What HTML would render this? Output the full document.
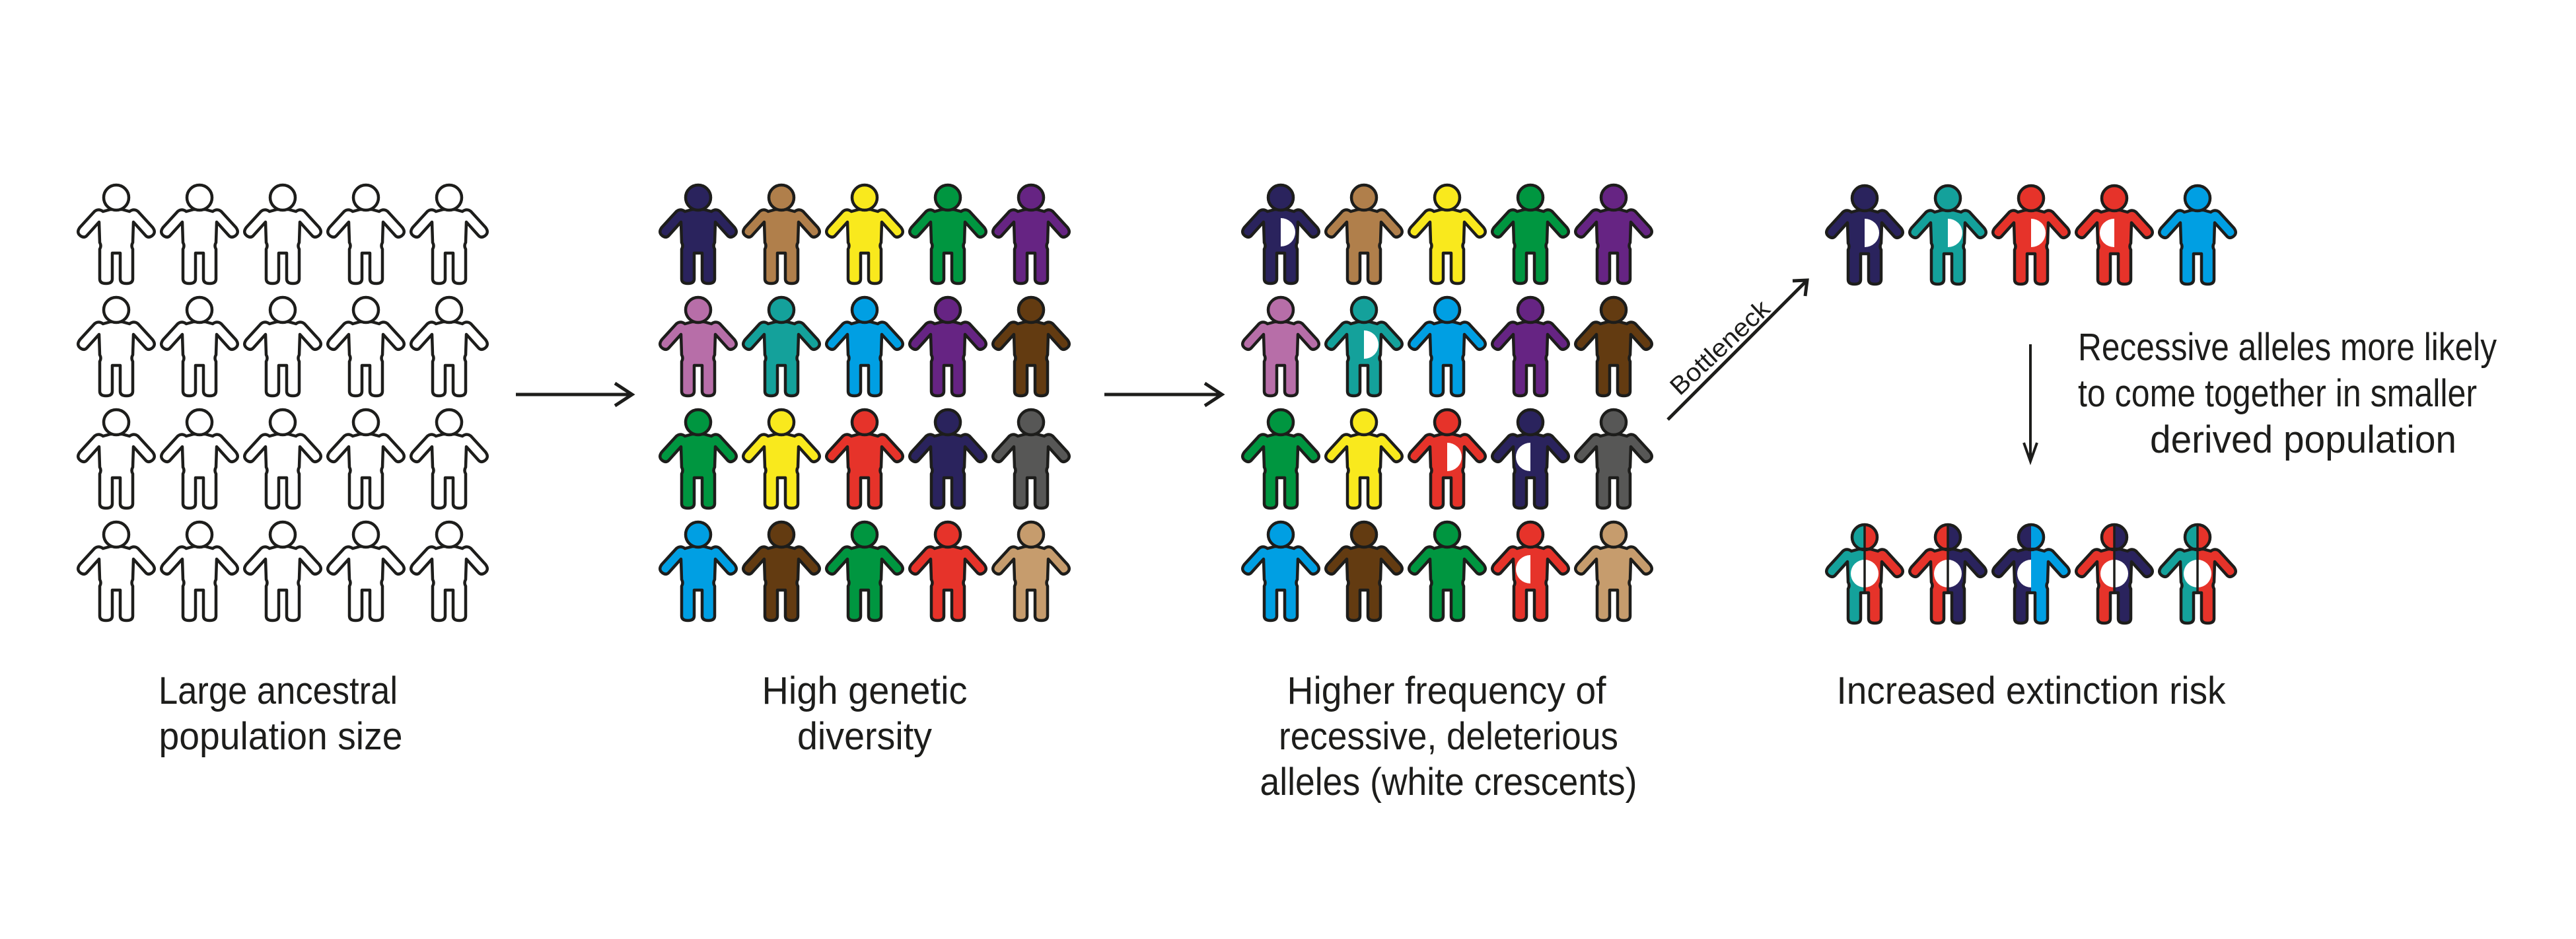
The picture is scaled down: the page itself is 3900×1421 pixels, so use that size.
<!DOCTYPE html>
<html><head><meta charset="utf-8"><style>
html,body{margin:0;padding:0;background:#fff;}
svg{display:block;}
text{font-family:"Liberation Sans Narrow","Liberation Sans",sans-serif;fill:#1d1d1b;}
</style></head>
<body>
<svg id="fig" width="3900" height="1421" viewBox="0 0 3900 1421" xmlns="http://www.w3.org/2000/svg">
<defs>
<path id="bodyshape" d="M -9 18 L -20 21 Q -27 16 -33 21 L -55 45 Q -61 53 -54 58 Q -48 62 -44 57 L -26 37 L -25 68 Q -22 73 -25 78 L -25 123 Q -25 130 -15.5 130 Q -6 130 -6 123 L -6 84 L 6 84 L 6 123 Q 6 130 15.5 130 Q 25 130 25 123 L 25 78 Q 22 73 25 68 L 26 37 L 44 57 Q 48 62 54 58 Q 61 53 55 45 L 33 21 Q 27 16 20 21 L 9 18 Z"/>
<clipPath id="rightHalf"><rect x="0" y="-30" width="80" height="170"/></clipPath>
<clipPath id="leftHalf"><rect x="-80" y="-30" width="80" height="170"/></clipPath>
</defs>
<g id="groups"></g>

<g stroke="#1d1d1b" stroke-width="5" fill="none">
<line x1="781" y1="597" x2="957" y2="597"/><polyline points="931,580 957,597 931,614"/>
</g>
<g stroke="#1d1d1b" stroke-width="5" fill="none">
<line x1="1672" y1="597" x2="1850" y2="597"/><polyline points="1824,580 1850,597 1824,614"/>
</g>
<g stroke="#1d1d1b" stroke-width="5" fill="none">
<line x1="2525" y1="635" x2="2736" y2="424"/><polyline points="2714,425 2736,424 2733,448"/>
</g>
<text x="0" y="0" font-size="38" transform="translate(2543,600) rotate(-43)" textLength="190" lengthAdjust="spacingAndGlyphs">Bottleneck</text>
<g stroke="#1d1d1b" stroke-width="4" fill="none">
<line x1="3074" y1="521" x2="3074" y2="698"/><polyline points="3064,670 3074,698 3084,670"/>
</g>

<g font-size="58">
<text x="3146" y="545" textLength="634" lengthAdjust="spacingAndGlyphs">Recessive alleles more likely</text>
<text x="3146" y="615" textLength="604" lengthAdjust="spacingAndGlyphs">to come together in smaller</text>
<text x="3255" y="685" textLength="464" lengthAdjust="spacingAndGlyphs">derived population</text>
</g>

<g font-size="58" text-anchor="middle">
<text x="421" y="1065" textLength="362" lengthAdjust="spacingAndGlyphs">Large ancestral</text>
<text x="425" y="1134" textLength="369" lengthAdjust="spacingAndGlyphs">population size</text>
</g>
<g font-size="58" text-anchor="middle">
<text x="1309" y="1065" textLength="311" lengthAdjust="spacingAndGlyphs">High genetic</text>
<text x="1309" y="1134" textLength="204" lengthAdjust="spacingAndGlyphs">diversity</text>
</g>
<g font-size="58" text-anchor="middle">
<text x="2190" y="1065" textLength="483" lengthAdjust="spacingAndGlyphs">Higher frequency of</text>
<text x="2193" y="1134" textLength="514" lengthAdjust="spacingAndGlyphs">recessive, deleterious</text>
<text x="2193" y="1203" textLength="571" lengthAdjust="spacingAndGlyphs">alleles (white crescents)</text>
</g>
<g font-size="58" text-anchor="middle">
<text x="3075" y="1065" textLength="589" lengthAdjust="spacingAndGlyphs">Increased extinction risk</text>
</g>
</svg>
<script>
var C = {n:'#2a235d',b:'#b07f4b',y:'#f9e91d',g:'#009640',p:'#662483',k:'#b76ea8',t:'#14a19b',u:'#009fe3',d:'#633b11',r:'#e6332a',s:'#575756',a:'#c69c6d',w:'#ffffff'};
var ancestralGrid = [['w','w','w','w','w'],['w','w','w','w','w'],['w','w','w','w','w'],['w','w','w','w','w']];
var diversityGrid = [['n','b','y','g','p'],['k','t','u','p','d'],['g','y','r','n','s'],['u','d','g','r','a']];
var crescentGrid = [['R','','','',''],['','R','','',''],['','','R','L',''],['','','','L','']];
var bottleneckColors = ['n','t','r','r','u'];
var bottleneckCrescents = ['R','R','R','L',''];
var derivedLeft = ['t','r','n','r','t'];
var derivedRight = ['r','n','u','n','r'];
var derivedLine = [true,true,false,true,true];

var NS='http://www.w3.org/2000/svg';
var root=document.getElementById('groups');
function mk(tag,attrs,parent){var e=document.createElementNS(NS,tag);for(var k in attrs)e.setAttribute(k,attrs[k]);parent.appendChild(e);return e;}
var SW=4.5, STK='#1d1d1b';
var colX0=[176,1057,1939,2823], DX=126, rowY0=299, DY=170;

function person(parent,x,y,fill,crescent,name){
  var g=mk('g',{transform:'translate('+x+','+y+')'},parent);
  
  
  mk('use',{href:'#bodyshape',fill:fill,stroke:STK,'stroke-width':SW,'stroke-linejoin':'round'},g);
  if(crescent==='R') mk('path',{d:'M0 31 A22 21.5 0 0 1 0 74 Z',fill:'#fff'},g);
  if(crescent==='L') mk('path',{d:'M0 31 A22 21.5 0 0 0 0 74 Z',fill:'#fff'},g);
  mk('circle',{cx:0,cy:0,r:19,fill:fill,stroke:STK,'stroke-width':SW},g);
  return g;
}
function splitPerson(parent,x,y,lc,rc,line,name){
  var g=mk('g',{transform:'translate('+x+','+y+')'},parent);
  
  
  var L=mk('g',{'clip-path':'url(#leftHalf)'},g);
  mk('use',{href:'#bodyshape',fill:lc},L);
  mk('circle',{cx:0,cy:0,r:19,fill:lc},L);
  var R=mk('g',{'clip-path':'url(#rightHalf)'},g);
  mk('use',{href:'#bodyshape',fill:rc},R);
  mk('circle',{cx:0,cy:0,r:19,fill:rc},R);
  if(line){
    mk('ellipse',{cx:0,cy:55,rx:21,ry:21,fill:'#fff'},g);
    mk('line',{x1:0,y1:-19,x2:0,y2:84,stroke:STK,'stroke-width':3.5},g);
  } else {
    mk('path',{d:'M0 34 A21 21 0 0 0 0 76 Z',fill:'#fff'},g);
  }
  mk('use',{href:'#bodyshape',fill:'none',stroke:STK,'stroke-width':SW,'stroke-linejoin':'round'},g);
  mk('circle',{cx:0,cy:0,r:19,fill:'none',stroke:STK,'stroke-width':SW},g);
}
function grid(gi,cgrid,cres,name){
  var g=mk('g',{},root);
  
  
  for(var r=0;r<cgrid.length;r++)for(var c=0;c<cgrid[r].length;c++){
    person(g,colX0[gi]+c*DX,rowY0+r*DY,C[cgrid[r][c]],cres?cres[r][c]:'','person-r'+(r+1)+'-c'+(c+1));
  }
}
grid(0,ancestralGrid,null,'ancestral-population');
grid(1,diversityGrid,null,'diverse-population');
grid(2,diversityGrid,crescentGrid,'recessive-allele-population');
var g4=mk('g',{},root);


for(var i=0;i<bottleneckColors.length;i++) person(g4,colX0[3]+i*DX,300,C[bottleneckColors[i]],bottleneckCrescents[i],'survivor-'+(i+1));
var g5=mk('g',{},root);


for(var j=0;j<derivedLeft.length;j++) splitPerson(g5,colX0[3]+j*DX,813,C[derivedLeft[j]],C[derivedRight[j]],derivedLine[j],'offspring-'+(j+1));
</script>
</body></html>
